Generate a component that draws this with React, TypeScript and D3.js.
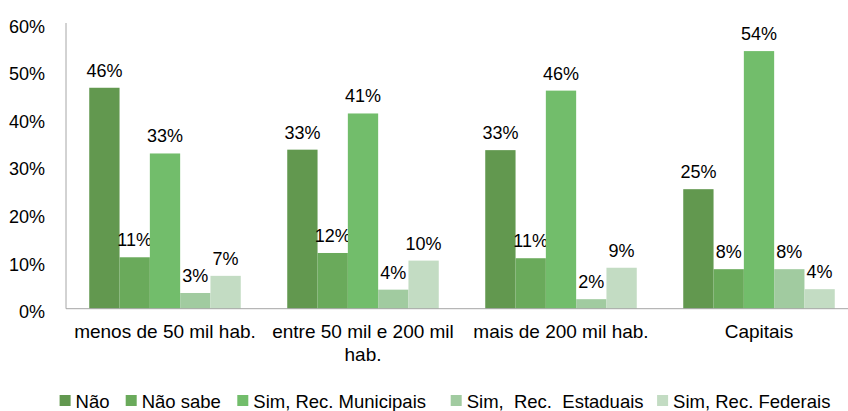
import React from "react";
import * as d3 from "d3";

const categories = ["menos de 50 mil hab.", "entre 50 mil e 200 mil hab.", "mais de 200 mil hab.", "Capitais"];
const seriesNames = ["Não", "Não sabe", "Sim, Rec. Municipais", "Sim,  Rec.  Estaduais", "Sim, Rec. Federais"];
const naoValues = [46.4, 33.4, 33.3, 25.1];
const naoSabeValues = [10.8, 11.7, 10.6, 8.3];
const municipaisValues = [32.6, 41.0, 45.8, 54.1];
const estaduaisValues = [3.3, 4.0, 2.0, 8.3];
const federaisValues = [6.9, 10.1, 8.6, 4.1];
const yTicks = [0, 10, 20, 30, 40, 50, 60];
const colors = ["#62984f", "#6aaa5b", "#72bd6b", "#a1cba0", "#c3dcc3"];

const seriesValues = [naoValues, naoSabeValues, municipaisValues, estaduaisValues, federaisValues];

const W = 848;
const H = 411;
const FONT = "'Liberation Sans', Arial, sans-serif";
const FS = 18;
const CAT_FS = 19;
const LEG_FS = 18.5;
const legendX = [59.6, 125.7, 237.3, 450.7, 657.1];

let ctx: CanvasRenderingContext2D | null = null;
function textWidth(s: string, size: number): number {
  if (!ctx) {
    const c = document.createElement("canvas");
    ctx = c.getContext("2d");
  }
  if (!ctx) return s.length * size * 0.5;
  ctx.font = `${size}px ${FONT}`;
  return ctx.measureText(s).width;
}

function wrap(label: string, maxW: number, size: number): string[] {
  const words = label.split(" ");
  const lines: string[] = [];
  let cur = "";
  for (const w of words) {
    const t = cur ? cur + " " + w : w;
    if (textWidth(t, size) > maxW && cur) {
      lines.push(cur);
      cur = w;
    } else cur = t;
  }
  if (cur) lines.push(cur);
  return lines;
}

export default function App() {
  const left = 66;
  const y = d3.scaleLinear().domain([0, 60]).range([308.7, 23]);
  const x0 = d3.scaleBand<string>().domain(categories).range([left, left + 4 * 198]).padding(0);
  const x1 = d3
    .scaleBand<number>()
    .domain(d3.range(seriesNames.length))
    .range([0, x0.bandwidth()])
    .paddingInner(0)
    .paddingOuter(0.767);

  return (
    <svg
      width={W}
      height={H}
      style={{ position: "absolute", left: 0, top: 0, background: "#fff" }}
      fontFamily={FONT}
      fontSize={FS}
    >
      {categories.map((c, ci) => (
        <g key={c} transform={`translate(${x0(c)},0)`}>
          {seriesValues.map((vals, si) => {
            const v = vals[ci];
            const bx = x1(si)!;
            const bw = x1.bandwidth();
            return (
              <g key={si}>
                <rect x={bx} y={y(v)} width={bw} height={y(0) - y(v)} fill={colors[si]} />
                <text x={bx + bw / 2} y={y(v) - 11} textAnchor="middle" fill="#000">
                  {`${Math.round(v)}%`}
                </text>
              </g>
            );
          })}
        </g>
      ))}
      <line x1={left} x2={left} y1={y(60)} y2={y(0)} stroke="#a6a6a6" strokeWidth={1} />
      <line x1={left} x2={W} y1={y(0)} y2={y(0)} stroke="#a6a6a6" strokeWidth={1} />
      {yTicks.map((t) => (
        <text key={t} x={45} y={y(t) + 9.5} textAnchor="end" fill="#000">
          {`${t}%`}
        </text>
      ))}
      {categories.map((c) => {
        const lines = wrap(c, x0.bandwidth(), CAT_FS);
        return (
          <text key={c} textAnchor="middle" fill="#000" fontSize={CAT_FS}>
            {lines.map((ln, i) => (
              <tspan key={i} x={x0(c)! + x0.bandwidth() / 2} y={338 + i * 22.5}>
                {ln}
              </tspan>
            ))}
          </text>
        );
      })}
      {seriesNames.map((name, i) => (
        <g key={name}>
          <rect x={legendX[i]} y={395} width={11} height={11} fill={colors[i]} />
          <text x={legendX[i] + 16} y={407.5} fill="#000" fontSize={LEG_FS} style={{ whiteSpace: "pre" }}>
            {name}
          </text>
        </g>
      ))}
    </svg>
  );
}
